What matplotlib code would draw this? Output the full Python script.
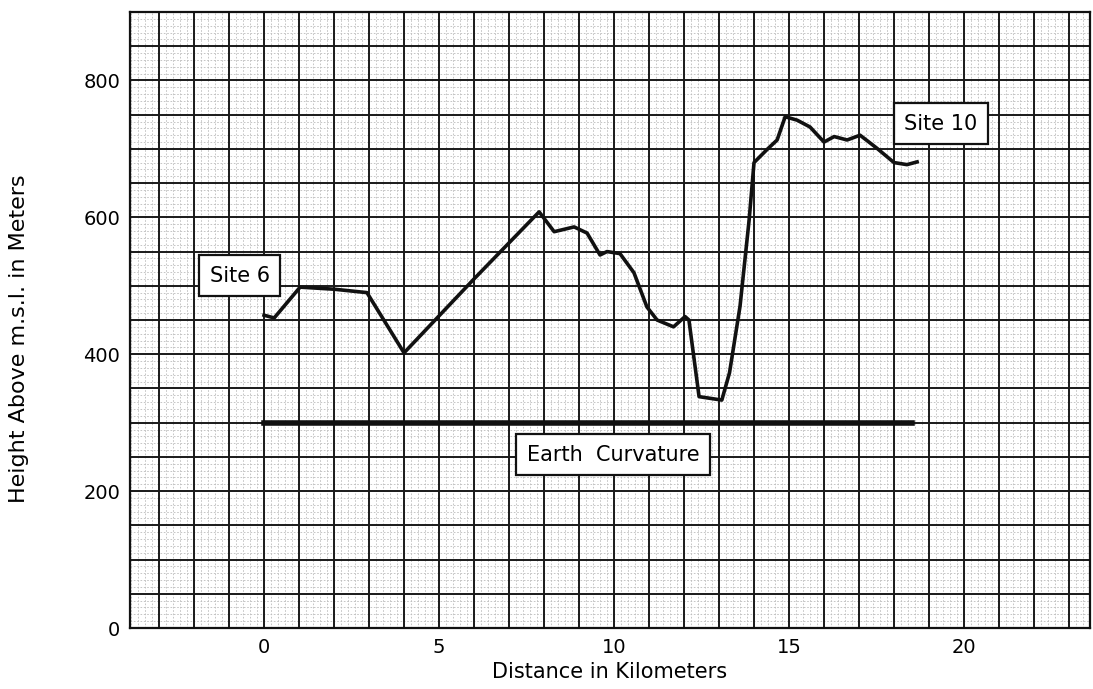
import matplotlib
matplotlib.use("Agg")
import matplotlib.pyplot as plt
import numpy as np

# Terrain profile between Site 6 and Site 10
distance_km = [0.0, 0.29, 1.03, 2.0, 2.94, 4.0, 6.0, 7.86, 8.29, 8.86, 9.23, 9.6,
               9.8, 10.17, 10.57, 10.94, 11.23, 11.7, 12.03, 12.14, 12.43, 13.08,
               13.3, 13.6, 13.86, 14.0, 14.37, 14.66, 14.89, 15.23, 15.6, 16.0,
               16.29, 16.66, 17.03, 17.51, 18.0, 18.37, 18.66]
height_m = [457, 453, 498, 495, 490, 402, 510, 608, 579, 586, 577, 545,
            550, 547, 519, 469, 450, 440, 455, 450, 338, 333,
            373, 470, 596, 680, 699, 713, 747, 742, 732, 710,
            718, 713, 720, 701, 680, 677, 681]

curve_x = [0.0, 18.5]
curve_y = [300, 300]

x_ticks = [0, 5, 10, 15, 20]
y_ticks = [0, 200, 400, 600, 800]

XMIN, XMAX = -3.83, 23.6
YMIN, YMAX = 0, 900

fig = plt.figure(figsize=(10.93, 6.89), dpi=100)
ax = fig.add_axes([130/1093, 1-628/689, 960/1093, 616/689])
ax.set_xlim(XMIN, XMAX)
ax.set_ylim(YMIN, YMAX)

# fine graph-paper lines
for xv in np.arange(-3.8, XMAX, 0.2):
    ax.axvline(xv, color='#bdbdbd', lw=0.6, ls=(0, (2, 2)), zorder=0)
for yv in np.arange(0, YMAX, 10):
    ax.axhline(yv, color='#bdbdbd', lw=0.6, ls=(0, (2, 2)), zorder=0)
# heavy graph-paper lines: every 1 km and every 50 m
for xv in np.arange(-3, XMAX, 1.0):
    ax.axvline(xv, color='#1a1a1a', lw=1.4, zorder=1)
for yv in np.arange(50, YMAX, 50):
    ax.axhline(yv, color='#1a1a1a', lw=1.4, zorder=1)

ax.set_xticks(x_ticks)
ax.set_yticks(y_ticks)
ax.tick_params(which='both', length=0, labelsize=14, pad=7)
for s in ax.spines.values():
    s.set_linewidth(1.6)
    s.set_color('#111111')

ax.plot(distance_km, height_m, color='#111111', lw=2.6, solid_joinstyle='round', zorder=5)
ax.plot(curve_x, curve_y, color='#111111', lw=4.0, zorder=5)

bbox = dict(boxstyle='square,pad=0.5', fc='white', ec='#111111', lw=1.6)
ax.text(-0.69, 515, 'Site 6', ha='center', va='center', fontsize=15, bbox=bbox, zorder=6)
ax.text(19.34, 737, 'Site 10', ha='center', va='center', fontsize=15, bbox=bbox, zorder=6)
ax.text(9.97, 253, 'Earth  Curvature', ha='center', va='center', fontsize=15, bbox=bbox, zorder=6)

ax.set_xlabel('Distance in Kilometers', fontsize=15, labelpad=4)
ax.set_ylabel('Height Above m.s.l. in Meters', fontsize=16)
ax.yaxis.set_label_coords(-101/960, 0.47)

fig.savefig('out.png', dpi=100)
